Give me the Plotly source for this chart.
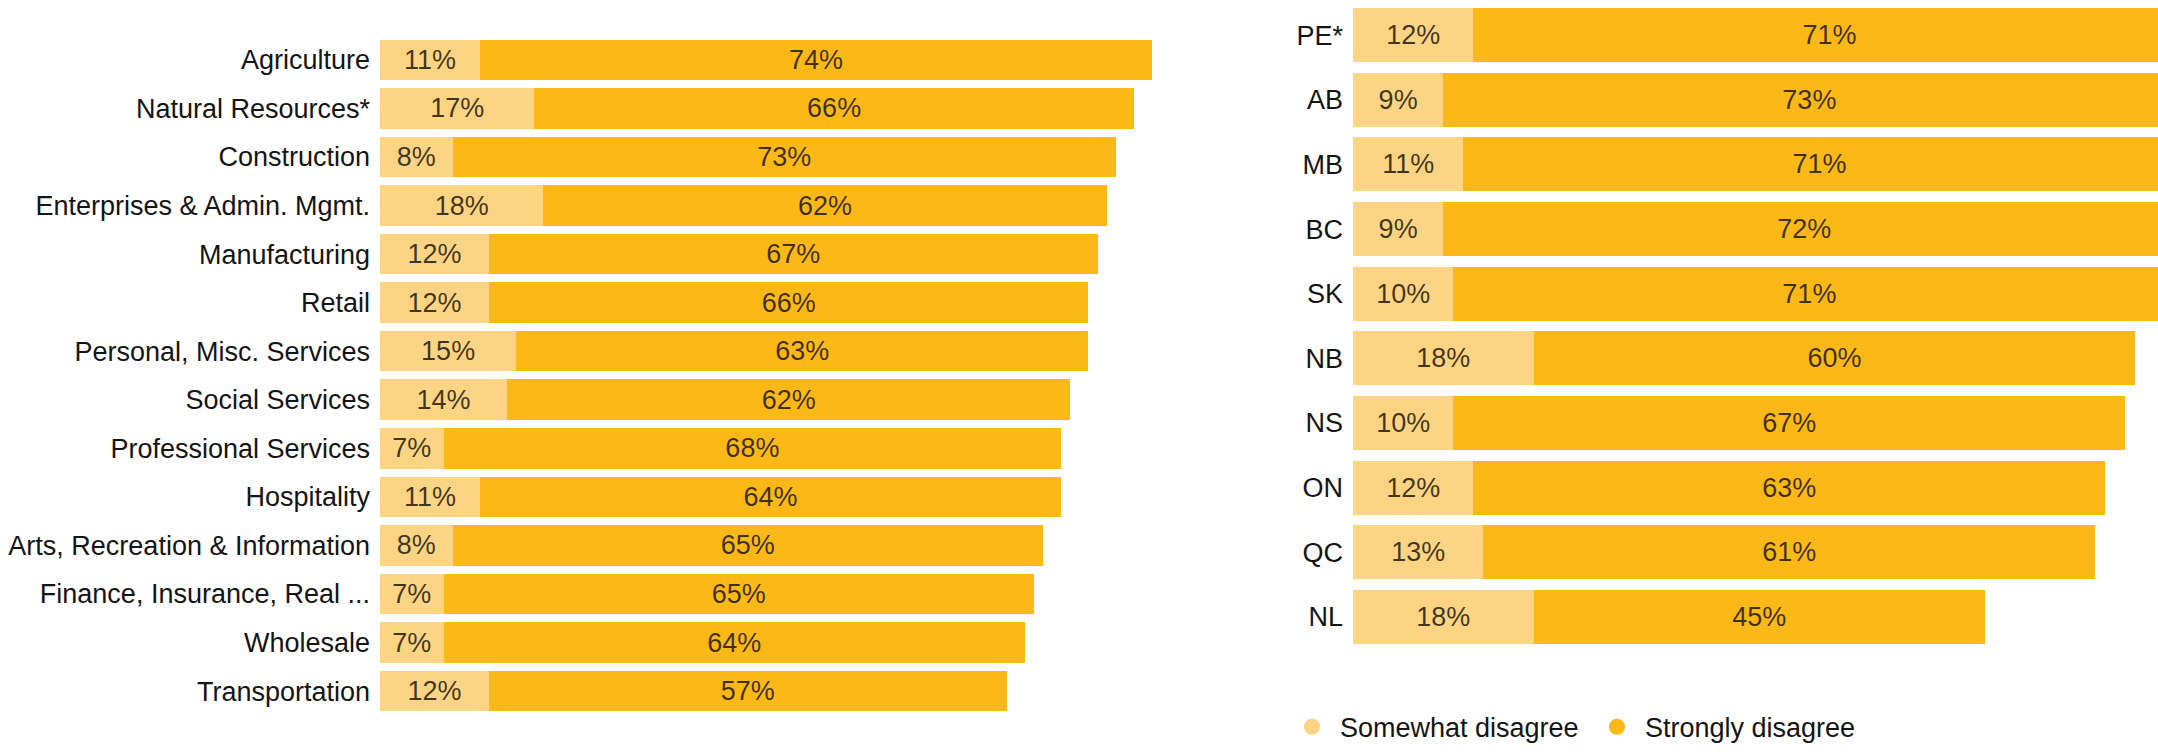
import plotly.graph_objects as go

industries = ["Agriculture", "Natural Resources*", "Construction", "Enterprises & Admin. Mgmt.",
              "Manufacturing", "Retail", "Personal, Misc. Services", "Social Services",
              "Professional Services", "Hospitality", "Arts, Recreation & Information",
              "Finance, Insurance, Real ...", "Wholesale", "Transportation"]
ind_somewhat = [11, 17, 8, 18, 12, 12, 15, 14, 7, 11, 8, 7, 7, 12]
ind_strongly = [74, 66, 73, 62, 67, 66, 63, 62, 68, 64, 65, 65, 64, 57]

provinces = ["PE*", "AB", "MB", "BC", "SK", "NB", "NS", "ON", "QC", "NL"]
prov_somewhat = [12, 9, 11, 9, 10, 18, 10, 12, 13, 18]
prov_strongly = [71, 73, 71, 72, 71, 60, 67, 63, 61, 45]

series_names = ["Somewhat disagree", "Strongly disagree"]
colors = ["#FDD483", "#FBB817"]

W, H = 2158, 752
FONT = "Liberation Sans, Arial, sans-serif"
FS = 27
TEXTCOL = "rgba(30,25,10,0.85)"
LABELCOL = "#141414"

fig = go.Figure()

def add_bars(cats, vals_list, xa, ya):
    for name, vals, col in zip(series_names, vals_list, colors):
        fig.add_trace(go.Bar(
            y=cats, x=vals, orientation="h", name=name,
            marker=dict(color=col, line=dict(width=0)),
            text=[f"{v}%" for v in vals], textposition="inside",
            insidetextanchor="middle",
            textfont=dict(family=FONT, size=FS, color=TEXTCOL),
            xaxis=xa, yaxis=ya, showlegend=False, hoverinfo="skip",
        ))

add_bars(industries, [ind_somewhat, ind_strongly], "x", "y")
add_bars(provinces, [prov_somewhat, prov_strongly], "x2", "y2")

# legend entries with circle markers
for name, col in zip(series_names, colors):
    fig.add_trace(go.Scatter(x=[None], y=[None], mode="markers", name=name,
                             marker=dict(symbol="circle", size=20, color=col),
                             xaxis="x2", yaxis="y2", showlegend=True))

axis_common = dict(showgrid=False, zeroline=False, showline=False, showticklabels=False, fixedrange=True)
yaxis_common = dict(showgrid=False, zeroline=False, showline=False, ticks="",
                    ticklabelstandoff=9, automargin=False, fixedrange=True,
                    tickfont=dict(family=FONT, size=FS, color=LABELCOL))

right_px_per_pct = 10.03
fig.update_layout(
    width=W, height=H,
    margin=dict(l=0, r=0, t=0, b=0),
    paper_bgcolor="white", plot_bgcolor="white",
    barmode="stack", bargap=0.165,
    font=dict(family=FONT, size=FS, color=LABELCOL),
    uniformtext=dict(minsize=FS, mode="show"),
    xaxis=dict(domain=[380 / W, 1152 / W], range=[0, 85], **axis_common),
    xaxis2=dict(domain=[1353 / W, 1.0], range=[0, (W - 1353) / right_px_per_pct], **axis_common),
    yaxis=dict(domain=[1 - 724 / H, 1 - 36 / H], autorange="reversed", anchor="x", **yaxis_common),
    yaxis2=dict(domain=[1 - 657.2 / H, 1 - 2.8 / H], autorange="reversed", anchor="x2", **yaxis_common),
    legend=dict(orientation="h", x=1284 / W, xanchor="left", y=1 - 736 / H, yanchor="middle",
                font=dict(family=FONT, size=FS, color=LABELCOL),
                bgcolor="rgba(0,0,0,0)", itemsizing="trace", traceorder="normal",
                itemwidth=46, entrywidth=244, entrywidthmode="pixels"),
)

fig.write_html("out.html", config={"displayModeBar": False},
               post_script="document.body.style.margin='0';document.body.style.overflow='hidden';")
